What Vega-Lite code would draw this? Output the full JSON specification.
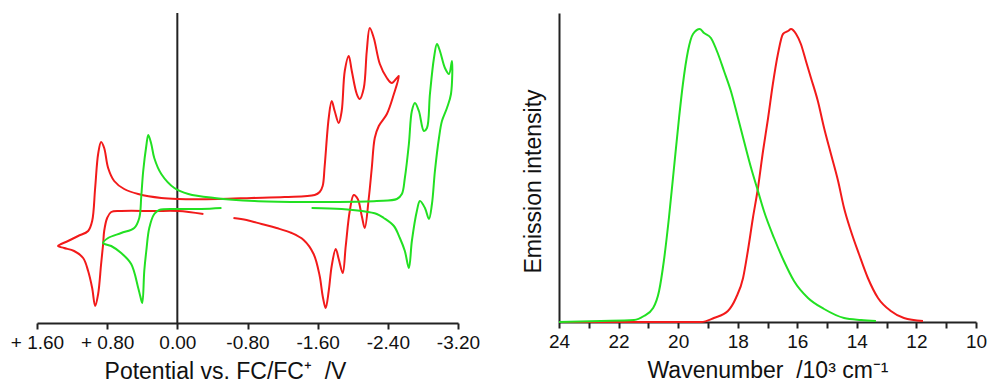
{
  "$schema": "https://vega.github.io/schema/vega-lite/v6.json",
  "autosize": {"type": "pad"},
  "padding": {"left": 10, "top": 12, "right": 0, "bottom": 0},
  "spacing": 42,
  "config": {
    "view": {"stroke": null},
    "font": "Liberation Sans",
    "axis": {
      "grid": false,
      "domainColor": "#222222",
      "domainWidth": 2,
      "tickColor": "#222222",
      "tickWidth": 2,
      "tickSize": 6,
      "labelFont": "Liberation Sans",
      "labelFontSize": 19,
      "labelColor": "#111111",
      "labelPadding": 4,
      "labelFlush": false,
      "labelOverlap": false,
      "titleFont": "Liberation Sans",
      "titleFontSize": 23,
      "titleFontWeight": "normal",
      "titleColor": "#111111"
    }
  },
  "datasets": {
    "zero": [{"E": 0}],
    "cv": [
      {"s": "A", "i": 1, "E": -0.297, "I": 109},
      {"s": "A", "i": 2, "E": -0.011, "I": 112},
      {"s": "A", "i": 3, "E": 0.263, "I": 112},
      {"s": "A", "i": 4, "E": 0.640, "I": 112},
      {"s": "A", "i": 5, "E": 0.754, "I": 111},
      {"s": "A", "i": 6, "E": 0.800, "I": 105},
      {"s": "A", "i": 7, "E": 0.834, "I": 92},
      {"s": "A", "i": 8, "E": 0.846, "I": 79},
      {"s": "A", "i": 9, "E": 0.869, "I": 59},
      {"s": "A", "i": 10, "E": 0.903, "I": 29},
      {"s": "A", "i": 11, "E": 0.937, "I": 17},
      {"s": "A", "i": 12, "E": 0.971, "I": 35},
      {"s": "A", "i": 13, "E": 1.017, "I": 52},
      {"s": "A", "i": 14, "E": 1.074, "I": 65},
      {"s": "A", "i": 15, "E": 1.177, "I": 72},
      {"s": "A", "i": 16, "E": 1.291, "I": 75},
      {"s": "A", "i": 17, "E": 1.360, "I": 77},
      {"s": "A", "i": 18, "E": 1.246, "I": 82},
      {"s": "A", "i": 19, "E": 1.131, "I": 87},
      {"s": "A", "i": 20, "E": 1.017, "I": 92},
      {"s": "A", "i": 21, "E": 0.971, "I": 102},
      {"s": "A", "i": 22, "E": 0.937, "I": 135},
      {"s": "A", "i": 23, "E": 0.903, "I": 169},
      {"s": "A", "i": 24, "E": 0.869, "I": 181},
      {"s": "A", "i": 25, "E": 0.834, "I": 175},
      {"s": "A", "i": 26, "E": 0.789, "I": 155},
      {"s": "A", "i": 27, "E": 0.720, "I": 142},
      {"s": "A", "i": 28, "E": 0.606, "I": 134},
      {"s": "A", "i": 29, "E": 0.446, "I": 129},
      {"s": "A", "i": 30, "E": 0.183, "I": 125},
      {"s": "A", "i": 31, "E": -0.011, "I": 124},
      {"s": "A", "i": 32, "E": -0.469, "I": 124},
      {"s": "A", "i": 33, "E": -0.846, "I": 125},
      {"s": "A", "i": 34, "E": -1.223, "I": 126},
      {"s": "A", "i": 35, "E": -1.566, "I": 128},
      {"s": "A", "i": 36, "E": -1.623, "I": 131},
      {"s": "A", "i": 37, "E": -1.657, "I": 137},
      {"s": "A", "i": 38, "E": -1.680, "I": 157},
      {"s": "A", "i": 39, "E": -1.726, "I": 205},
      {"s": "A", "i": 40, "E": -1.760, "I": 222},
      {"s": "A", "i": 41, "E": -1.794, "I": 212},
      {"s": "A", "i": 42, "E": -1.840, "I": 200},
      {"s": "A", "i": 43, "E": -1.874, "I": 212},
      {"s": "A", "i": 44, "E": -1.909, "I": 252},
      {"s": "A", "i": 45, "E": -1.954, "I": 267},
      {"s": "A", "i": 46, "E": -1.989, "I": 252},
      {"s": "A", "i": 47, "E": -2.046, "I": 229},
      {"s": "A", "i": 48, "E": -2.080, "I": 224},
      {"s": "A", "i": 49, "E": -2.126, "I": 235},
      {"s": "A", "i": 50, "E": -2.160, "I": 272},
      {"s": "A", "i": 51, "E": -2.194, "I": 295},
      {"s": "A", "i": 52, "E": -2.240, "I": 285},
      {"s": "A", "i": 53, "E": -2.309, "I": 259},
      {"s": "A", "i": 54, "E": -2.389, "I": 245},
      {"s": "A", "i": 55, "E": -2.446, "I": 240},
      {"s": "A", "i": 56, "E": -2.503, "I": 245},
      {"s": "A", "i": 57, "E": -2.526, "I": 247},
      {"s": "A", "i": 58, "E": -2.469, "I": 229},
      {"s": "A", "i": 59, "E": -2.389, "I": 209},
      {"s": "A", "i": 60, "E": -2.297, "I": 197},
      {"s": "A", "i": 61, "E": -2.251, "I": 185},
      {"s": "A", "i": 62, "E": -2.217, "I": 155},
      {"s": "A", "i": 63, "E": -2.183, "I": 125},
      {"s": "A", "i": 64, "E": -2.137, "I": 95},
      {"s": "A", "i": 65, "E": -2.103, "I": 107},
      {"s": "A", "i": 66, "E": -2.057, "I": 124},
      {"s": "A", "i": 67, "E": -2.011, "I": 128},
      {"s": "A", "i": 68, "E": -1.966, "I": 112},
      {"s": "A", "i": 69, "E": -1.920, "I": 77},
      {"s": "A", "i": 70, "E": -1.886, "I": 50},
      {"s": "A", "i": 71, "E": -1.840, "I": 64},
      {"s": "A", "i": 72, "E": -1.806, "I": 74},
      {"s": "A", "i": 73, "E": -1.760, "I": 57},
      {"s": "A", "i": 74, "E": -1.726, "I": 32},
      {"s": "A", "i": 75, "E": -1.691, "I": 15},
      {"s": "A", "i": 76, "E": -1.657, "I": 27},
      {"s": "A", "i": 77, "E": -1.623, "I": 47},
      {"s": "A", "i": 78, "E": -1.554, "I": 69},
      {"s": "A", "i": 79, "E": -1.440, "I": 83},
      {"s": "A", "i": 80, "E": -1.303, "I": 90},
      {"s": "A", "i": 81, "E": -1.131, "I": 95},
      {"s": "A", "i": 82, "E": -0.960, "I": 99},
      {"s": "A", "i": 83, "E": -0.789, "I": 103},
      {"s": "A", "i": 84, "E": -0.640, "I": 105},
      {"s": "B", "i": 1, "E": -0.503, "I": 115},
      {"s": "B", "i": 2, "E": -0.274, "I": 114},
      {"s": "B", "i": 3, "E": -0.011, "I": 114},
      {"s": "B", "i": 4, "E": 0.206, "I": 113},
      {"s": "B", "i": 5, "E": 0.263, "I": 109},
      {"s": "B", "i": 6, "E": 0.320, "I": 95},
      {"s": "B", "i": 7, "E": 0.354, "I": 72},
      {"s": "B", "i": 8, "E": 0.377, "I": 52},
      {"s": "B", "i": 9, "E": 0.400, "I": 20},
      {"s": "B", "i": 10, "E": 0.423, "I": 27},
      {"s": "B", "i": 11, "E": 0.446, "I": 35},
      {"s": "B", "i": 12, "E": 0.526, "I": 59},
      {"s": "B", "i": 13, "E": 0.640, "I": 70},
      {"s": "B", "i": 14, "E": 0.754, "I": 77},
      {"s": "B", "i": 15, "E": 0.846, "I": 80},
      {"s": "B", "i": 16, "E": 0.789, "I": 85},
      {"s": "B", "i": 17, "E": 0.640, "I": 90},
      {"s": "B", "i": 18, "E": 0.491, "I": 95},
      {"s": "B", "i": 19, "E": 0.434, "I": 105},
      {"s": "B", "i": 20, "E": 0.411, "I": 127},
      {"s": "B", "i": 21, "E": 0.389, "I": 152},
      {"s": "B", "i": 22, "E": 0.354, "I": 177},
      {"s": "B", "i": 23, "E": 0.331, "I": 188},
      {"s": "B", "i": 24, "E": 0.297, "I": 179},
      {"s": "B", "i": 25, "E": 0.263, "I": 165},
      {"s": "B", "i": 26, "E": 0.183, "I": 149},
      {"s": "B", "i": 27, "E": 0.034, "I": 135},
      {"s": "B", "i": 28, "E": -0.126, "I": 129},
      {"s": "B", "i": 29, "E": -0.423, "I": 125},
      {"s": "B", "i": 30, "E": -0.880, "I": 122},
      {"s": "B", "i": 31, "E": -1.417, "I": 121},
      {"s": "B", "i": 32, "E": -1.794, "I": 121},
      {"s": "B", "i": 33, "E": -2.274, "I": 122},
      {"s": "B", "i": 34, "E": -2.503, "I": 124},
      {"s": "B", "i": 35, "E": -2.560, "I": 129},
      {"s": "B", "i": 36, "E": -2.594, "I": 145},
      {"s": "B", "i": 37, "E": -2.640, "I": 179},
      {"s": "B", "i": 38, "E": -2.674, "I": 212},
      {"s": "B", "i": 39, "E": -2.709, "I": 220},
      {"s": "B", "i": 40, "E": -2.754, "I": 212},
      {"s": "B", "i": 41, "E": -2.811, "I": 192},
      {"s": "B", "i": 42, "E": -2.846, "I": 195},
      {"s": "B", "i": 43, "E": -2.880, "I": 229},
      {"s": "B", "i": 44, "E": -2.926, "I": 265},
      {"s": "B", "i": 45, "E": -2.960, "I": 279},
      {"s": "B", "i": 46, "E": -2.994, "I": 272},
      {"s": "B", "i": 47, "E": -3.051, "I": 255},
      {"s": "B", "i": 48, "E": -3.097, "I": 249},
      {"s": "B", "i": 49, "E": -3.131, "I": 262},
      {"s": "B", "i": 50, "E": -3.120, "I": 229},
      {"s": "B", "i": 51, "E": -3.074, "I": 215},
      {"s": "B", "i": 52, "E": -3.017, "I": 202},
      {"s": "B", "i": 53, "E": -2.983, "I": 185},
      {"s": "B", "i": 54, "E": -2.937, "I": 152},
      {"s": "B", "i": 55, "E": -2.903, "I": 119},
      {"s": "B", "i": 56, "E": -2.869, "I": 104},
      {"s": "B", "i": 57, "E": -2.823, "I": 115},
      {"s": "B", "i": 58, "E": -2.766, "I": 122},
      {"s": "B", "i": 59, "E": -2.731, "I": 112},
      {"s": "B", "i": 60, "E": -2.674, "I": 82},
      {"s": "B", "i": 61, "E": -2.640, "I": 55},
      {"s": "B", "i": 62, "E": -2.594, "I": 72},
      {"s": "B", "i": 63, "E": -2.537, "I": 85},
      {"s": "B", "i": 64, "E": -2.469, "I": 97},
      {"s": "B", "i": 65, "E": -2.354, "I": 105},
      {"s": "B", "i": 66, "E": -2.274, "I": 109},
      {"s": "B", "i": 67, "E": -2.103, "I": 112},
      {"s": "B", "i": 68, "E": -1.874, "I": 114},
      {"s": "B", "i": 69, "E": -1.531, "I": 115}
    ],
    "em": [
      {"s": "A", "w": 24.00, "I": 0},
      {"s": "A", "w": 21.50, "I": 0},
      {"s": "A", "w": 19.23, "I": 0},
      {"s": "A", "w": 18.80, "I": 4},
      {"s": "A", "w": 18.33, "I": 11},
      {"s": "A", "w": 18.06, "I": 24},
      {"s": "A", "w": 17.82, "I": 44},
      {"s": "A", "w": 17.66, "I": 71},
      {"s": "A", "w": 17.49, "I": 104},
      {"s": "A", "w": 17.32, "I": 134},
      {"s": "A", "w": 17.15, "I": 171},
      {"s": "A", "w": 16.98, "I": 204},
      {"s": "A", "w": 16.82, "I": 238},
      {"s": "A", "w": 16.65, "I": 268},
      {"s": "A", "w": 16.48, "I": 288},
      {"s": "A", "w": 16.31, "I": 291},
      {"s": "A", "w": 16.21, "I": 293},
      {"s": "A", "w": 16.04, "I": 288},
      {"s": "A", "w": 15.88, "I": 278},
      {"s": "A", "w": 15.71, "I": 261},
      {"s": "A", "w": 15.54, "I": 244},
      {"s": "A", "w": 15.31, "I": 221},
      {"s": "A", "w": 15.10, "I": 194},
      {"s": "A", "w": 14.87, "I": 168},
      {"s": "A", "w": 14.63, "I": 141},
      {"s": "A", "w": 14.43, "I": 114},
      {"s": "A", "w": 14.20, "I": 91},
      {"s": "A", "w": 13.93, "I": 68},
      {"s": "A", "w": 13.63, "I": 44},
      {"s": "A", "w": 13.29, "I": 24},
      {"s": "A", "w": 12.86, "I": 11},
      {"s": "A", "w": 12.42, "I": 4},
      {"s": "A", "w": 11.78, "I": 1},
      {"s": "B", "w": 24.00, "I": 0},
      {"s": "B", "w": 22.59, "I": 1},
      {"s": "B", "w": 21.48, "I": 2},
      {"s": "B", "w": 21.15, "I": 6},
      {"s": "B", "w": 20.84, "I": 14},
      {"s": "B", "w": 20.64, "I": 31},
      {"s": "B", "w": 20.48, "I": 61},
      {"s": "B", "w": 20.31, "I": 104},
      {"s": "B", "w": 20.14, "I": 154},
      {"s": "B", "w": 19.97, "I": 204},
      {"s": "B", "w": 19.84, "I": 238},
      {"s": "B", "w": 19.67, "I": 271},
      {"s": "B", "w": 19.50, "I": 288},
      {"s": "B", "w": 19.27, "I": 293},
      {"s": "B", "w": 19.13, "I": 289},
      {"s": "B", "w": 18.90, "I": 284},
      {"s": "B", "w": 18.66, "I": 268},
      {"s": "B", "w": 18.46, "I": 251},
      {"s": "B", "w": 18.23, "I": 231},
      {"s": "B", "w": 17.99, "I": 204},
      {"s": "B", "w": 17.79, "I": 181},
      {"s": "B", "w": 17.55, "I": 154},
      {"s": "B", "w": 17.32, "I": 131},
      {"s": "B", "w": 17.12, "I": 111},
      {"s": "B", "w": 16.78, "I": 84},
      {"s": "B", "w": 16.45, "I": 61},
      {"s": "B", "w": 16.11, "I": 41},
      {"s": "B", "w": 15.64, "I": 24},
      {"s": "B", "w": 15.10, "I": 13},
      {"s": "B", "w": 14.43, "I": 4},
      {"s": "B", "w": 13.86, "I": 2},
      {"s": "B", "w": 13.36, "I": 1}
    ]
  },
  "hconcat": [
    {
      "width": 421,
      "height": 310,
      "encoding": {
        "x": {
          "field": "E",
          "type": "quantitative",
          "scale": {"domain": [1.6, -3.2], "nice": false, "zero": false},
          "axis": {
            "values": [1.6, 0.8, 0, -0.8, -1.6, -2.4, -3.2],
            "labelExpr": "datum.value > 0.001 ? '+ ' + format(datum.value, '.2f') : (datum.value < -0.001 ? '-' + format(-datum.value, '.2f') : '0.00')",
            "title": "Potential vs. FC/FC⁺\u00a0\u00a0/V",
            "titleX": 188,
            "titleAlign": "center",
            "titlePadding": 8
          }
        }
      },
      "layer": [
        {
          "data": {"name": "zero"},
          "mark": {"type": "rule", "color": "#222222", "strokeWidth": 2},
          "encoding": {}
        },
        {
          "data": {"name": "cv"},
          "mark": {"type": "line", "strokeWidth": 2, "interpolate": "catmull-rom"},
          "encoding": {
            "y": {"field": "I", "type": "quantitative", "scale": {"domain": [0, 310], "nice": false}, "axis": null},
            "color": {"field": "s", "type": "nominal", "scale": {"domain": ["A", "B"], "range": ["#f21a1a", "#22e022"]}, "legend": null},
            "order": {"field": "i", "type": "quantitative"}
          }
        }
      ]
    },
    {
      "width": 417,
      "height": 309,
      "data": {"name": "em"},
      "mark": {"type": "line", "strokeWidth": 2, "interpolate": "monotone"},
      "encoding": {
        "x": {
          "field": "w",
          "type": "quantitative",
          "scale": {"domain": [24, 10], "nice": false, "zero": false},
          "axis": {
            "values": [24, 23, 22, 21, 20, 19, 18, 17, 16, 15, 14, 13, 12, 11, 10],
            "labelExpr": "datum.value % 2 == 0 ? datum.label : ''",
            "title": "Wavenumber\u00a0\u00a0/10³ cm⁻¹",
            "titlePadding": 8
          }
        },
        "y": {
          "field": "I",
          "type": "quantitative",
          "scale": {"domain": [0, 309], "nice": false},
          "axis": {"ticks": false, "labels": false, "title": "Emission intensity", "titlePadding": 14, "titleY": 168, "titleAlign": "center"}
        },
        "color": {"field": "s", "type": "nominal", "scale": {"domain": ["A", "B"], "range": ["#f21a1a", "#22e022"]}, "legend": null}
      }
    }
  ]
}
